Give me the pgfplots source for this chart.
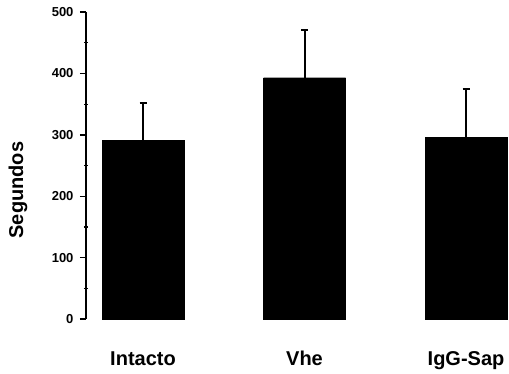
\documentclass[border=0pt]{standalone}
\usepackage{pgfplots}
\pgfplotsset{compat=1.18}
\usepackage{fontspec}
\setmainfont{Liberation Sans}
\begin{document}
\begin{tikzpicture}
\path[use as bounding box] (-86pt,-54pt) rectangle (423pt,319pt);
\begin{axis}[
  at={(0pt,0pt)}, anchor=south west,
  scale only axis, width=423pt, height=307pt,
  xmin=-0.353, xmax=2.266, ymin=0, ymax=500,
  axis x line=bottom, axis y line=left,
  x axis line style={draw=none},
  y axis line style={-, line width=1.6pt},
  xtick=data, xticklabels={Intacto, Vhe, IgG-Sap},
  xtick style={draw=none},
  ytick={0,100,200,300,400,500},
  minor y tick num=1,
  tick align=outside,
  major tick length=6pt, minor tick length=4pt,
  ytick style={line width=1.4pt, black},
  minor y tick style={xshift=2pt, line width=1.2pt},
  /pgf/number format/assume math mode=true,
  yticklabel style={font=\fontsize{13}{15}\selectfont\bfseries, xshift=-3pt},
  xticklabel style={font=\fontsize{20}{24}\selectfont\bfseries, anchor=base, yshift=-40pt},
  ylabel={Segundos},
  ylabel style={font=\fontsize{20}{24}\selectfont\bfseries, at={(axis description cs:-0.161,0.42)}, anchor=center},
  ybar, bar width=82pt,
  clip=false,
]
\addplot[fill=black, draw=black,
  error bars/.cd, y dir=plus, y explicit,
  error bar style={line width=2pt, black},
  error mark=|, error mark options={line width=2pt, mark size=3.5pt, black}]
  coordinates {(0,291) +- (0,60) (1,393) +- (0,78) (2,296) +- (0,79)};
\end{axis}
\end{tikzpicture}
\end{document}
